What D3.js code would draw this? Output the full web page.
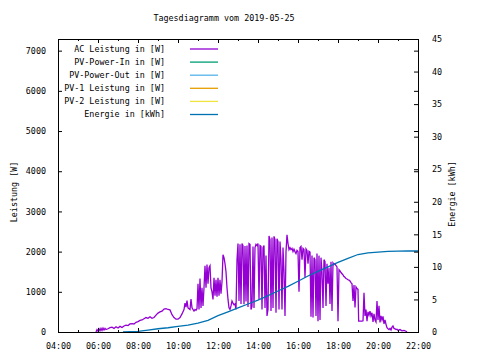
<!DOCTYPE html>
<html><head><meta charset="utf-8">
<script src="https://cdn.jsdelivr.net/npm/d3@7"></script>
<style>
body{margin:0;background:#fff;}
text{font-family:"DejaVu Sans Mono",monospace;font-size:8.4px;fill:#000;}
</style></head>
<body><svg id="c" width="480" height="360"></svg>
<script>
const title = "Tagesdiagramm vom 2019-05-25";
const yLabel = "Leistung [W]";
const y2Label = "Energie [kWh]";
const legendLabels = ["AC Leistung in [W]","PV-Power-In in [W]","PV-Power-Out in [W]","PV-1 Leistung in [W]","PV-2 Leistung in [W]","Energie in [kWh]"];
const legendColors = ["#9400d3","#009e73","#56b4e9","#e69f00","#f0e442","#0072b2"];
const yTicks = [0,1000,2000,3000,4000,5000,6000,7000];
const y2Ticks = [0,5,10,15,20,25,30,35,40,45];

const acTimes = ["05:54","05:57","06:00","06:03","06:06","06:09","06:12","06:15","06:18","06:21","06:24","06:30","06:36","06:42","06:48","06:54","07:00","07:06","07:12","07:18","07:24","07:30","07:36","07:42","07:48","07:54","08:00","08:06","08:12","08:18","08:24","08:30","08:36","08:42","08:48","08:54","09:00","09:06","09:12","09:18","09:24","09:30","09:36","09:42","09:48","09:54","10:00","10:06","10:12","10:18","10:21","10:24","10:27","10:30",
"10:33","10:36","10:39","10:42","10:45","10:48","10:51","10:54","10:57","11:00","11:03","11:06","11:09","11:12","11:15","11:18","11:21","11:24","11:27","11:30","11:33","11:36","11:39","11:42","11:45","11:48","11:51","11:54","11:57","12:00","12:03","12:06","12:09","12:12","12:15","12:18","12:21","12:24","12:27","12:30","12:33","12:36","12:39","12:42","12:45","12:48",
"12:51","12:54","12:57","13:00","13:03","13:06","13:09","13:12","13:15","13:18","13:21","13:24","13:27","13:30","13:33","13:36","13:39","13:42","13:45","13:48","13:51","13:54","13:57","14:00","14:03","14:06","14:09","14:12","14:15","14:18","14:21","14:24","14:27","14:30","14:33","14:36","14:39","14:42","14:45","14:48","14:51","14:54","14:57","15:00","15:03","15:06","15:09","15:12","15:15","15:18","15:21","15:24","15:27","15:30","15:33","15:36","15:39","15:42","15:45","15:48","15:51","15:54","15:57",
"16:00","16:03","16:06","16:09","16:12","16:15","16:18","16:21","16:24","16:27","16:30","16:33","16:36","16:39","16:42","16:45","16:48","16:51","16:54","16:57","17:00","17:03","17:06","17:09","17:12","17:15","17:18","17:21","17:24","17:27","17:30","17:33","17:36","17:39","17:42","17:45","17:48","17:51","17:54","17:57",
"18:00","18:03","18:06","18:09","18:12","18:15","18:18","18:21","18:24","18:27","18:30","18:33","18:36","18:39","18:42","18:45","18:48","18:51","18:54","18:57","19:00","19:02","19:06","19:12","19:15","19:18","19:21","19:24","19:27","19:30","19:33","19:36","19:39","19:42","19:45","19:48","19:51","19:54","19:57","20:00","20:03","20:06","20:09","20:12","20:15","20:18","20:21","20:24","20:27","20:30","20:33","20:36","20:39","20:42","20:45","20:48","20:51","20:54","20:57","21:00","21:06","21:12","21:18","21:24","21:27"];
const acWatts = [0,60,20,80,30,90,40,100,50,90,60,80,110,120,90,130,100,140,110,150,170,160,200,210,200,240,260,290,300,330,360,340,380,340,360,420,470,500,520,570,580,560,550,430,360,320,320,360,450,560,720,620,780,600,
580,560,820,600,560,520,560,540,580,1200,560,1330,600,1100,650,1100,1650,1100,1680,1200,1600,1650,1100,1000,810,1350,900,1300,880,1350,900,1300,950,1250,1920,1850,1700,1500,1100,810,600,560,650,770,720,680,
700,560,1800,2200,770,2180,700,2200,2150,690,2140,760,2150,620,2200,2180,560,640,2130,600,2100,2180,2150,2200,810,2150,2130,560,2100,2150,600,1900,400,560,2390,2300,520,2350,600,2380,2300,480,2320,2250,560,2250,1800,560,2100,1500,400,2000,2420,2200,2050,2100,2050,2080,2000,2060,2000,1950,2030,
2000,1000,2100,2130,1800,2080,2050,1350,2070,2030,1700,2010,1990,380,1900,360,1850,1800,400,1950,270,1900,300,1850,1500,600,1800,1750,650,1700,1200,1600,700,1750,520,1720,1680,1700,1650,1620,
270,1550,1520,1480,1450,1420,1380,1360,1330,1320,1300,1290,1270,1230,1200,770,1170,610,1120,1080,1060,270,270,270,280,975,400,560,270,500,420,520,400,480,250,450,300,250,770,300,650,240,400,300,390,200,300,190,105,80,60,90,50,120,150,90,80,60,70,40,60,30,40,20,0];

const energyTimes = ["07:15","08:00","08:30","09:00","09:30","10:00","10:30","11:00","11:30","12:00","12:30","13:00","13:30","14:00","14:30","15:00","15:30","16:00","16:30","17:00","17:30","18:00","18:30","19:00","19:30","20:00","20:30","21:00","21:30","22:00"];
const energyKWh = [0,0.1,0.3,0.5,0.65,0.85,1.05,1.35,1.8,2.5,3.1,3.7,4.3,4.9,5.6,6.3,7.0,7.8,8.6,9.3,10.0,10.7,11.3,11.9,12.15,12.28,12.38,12.42,12.44,12.44];

const svg = d3.select("#c");
const L = 58, R = 418, T = 39, B = 332;
const pt = d3.timeParse("%H:%M");
const x = d3.scaleTime().domain([pt("04:00"), pt("22:00")]).range([L, R]);
const y = d3.scaleLinear().domain([0, 7290]).range([B, T]);
const y2 = d3.scaleLinear().domain([0, 45]).range([B, T]);

// plot lines
const acData = acTimes.map((t,i)=>({t:pt(t), v:acWatts[i]}));
const enData = energyTimes.map((t,i)=>({t:pt(t), v:energyKWh[i]}));
svg.append("path").datum(acData)
  .attr("d", d3.line().x(d=>x(d.t)).y(d=>y(d.v)))
  .attr("fill","none").attr("stroke",legendColors[0]).attr("stroke-width",1.3);
svg.append("path").datum(enData)
  .attr("d", d3.line().x(d=>x(d.t)).y(d=>y2(d.v)))
  .attr("fill","none").attr("stroke",legendColors[5]).attr("stroke-width",1.3);

// frame
svg.append("rect").attr("x",L+0.5).attr("y",T+0.5).attr("width",R-L).attr("height",B-T)
  .attr("fill","none").attr("stroke","#000").attr("stroke-width",1);

// x axis ticks (inward, bottom and mirrored top)
const xMajor = x.ticks(d3.timeHour.every(2));
const xMinor = x.ticks(d3.timeHour.every(1));
const gx = svg.append("g").attr("transform",`translate(0,${B})`)
  .call(d3.axisBottom(x).tickValues(xMajor).tickFormat(d3.timeFormat("%H:%M")).tickSizeInner(-4).tickSizeOuter(0).tickPadding(11));
gx.select(".domain").remove();
svg.append("g").attr("transform",`translate(0,${T})`)
  .call(d3.axisTop(x).tickValues(xMajor).tickFormat("").tickSizeInner(-4).tickSizeOuter(0))
  .select(".domain").remove();
svg.append("g").attr("transform",`translate(0,${B})`)
  .call(d3.axisBottom(x).tickValues(xMinor).tickFormat("").tickSizeInner(-2).tickSizeOuter(0))
  .select(".domain").remove();
svg.append("g").attr("transform",`translate(0,${T})`)
  .call(d3.axisTop(x).tickValues(xMinor).tickFormat("").tickSizeInner(-2).tickSizeOuter(0))
  .select(".domain").remove();

// y axis
const gy = svg.append("g").attr("transform",`translate(${L},0)`)
  .call(d3.axisLeft(y).tickValues(yTicks).tickFormat(d3.format("d")).tickSizeInner(-4).tickSizeOuter(0).tickPadding(12));
gy.select(".domain").remove();
svg.append("g").attr("transform",`translate(${R},0)`)
  .call(d3.axisRight(y).tickValues(yTicks).tickFormat("").tickSizeInner(-4).tickSizeOuter(0))
  .select(".domain").remove();
// y2 axis
const gy2 = svg.append("g").attr("transform",`translate(${R},0)`)
  .call(d3.axisRight(y2).tickValues(y2Ticks).tickFormat(d3.format("d")).tickSizeInner(-4).tickSizeOuter(0).tickPadding(14));
gy2.select(".domain").remove();

svg.selectAll(".tick line").attr("stroke","#000").attr("transform",function(){return "";});
svg.selectAll(".tick text").style("font-family",'"DejaVu Sans Mono",monospace').style("font-size","8.4px").attr("fill","#000");

// title & labels
svg.append("text").attr("x",224).attr("y",21).attr("text-anchor","middle").text(title);
svg.append("text").attr("transform","translate(14,192) rotate(-90)").attr("text-anchor","middle").attr("dy","0.35em").text(yLabel);
svg.append("text").attr("transform","translate(452,194) rotate(-90)").attr("text-anchor","middle").attr("dy","0.35em").text(y2Label);

// legend
const lg = svg.append("g");
legendLabels.forEach((lab,i)=>{
  const yy = 49 + i*13.1;
  lg.append("text").attr("x",165).attr("y",yy).attr("dy","0.35em").attr("text-anchor","end").text(lab);
  lg.append("line").attr("x1",190).attr("x2",218).attr("y1",yy).attr("y2",yy)
    .attr("stroke",legendColors[i]).attr("stroke-width",1.3);
});
</script></body></html>
